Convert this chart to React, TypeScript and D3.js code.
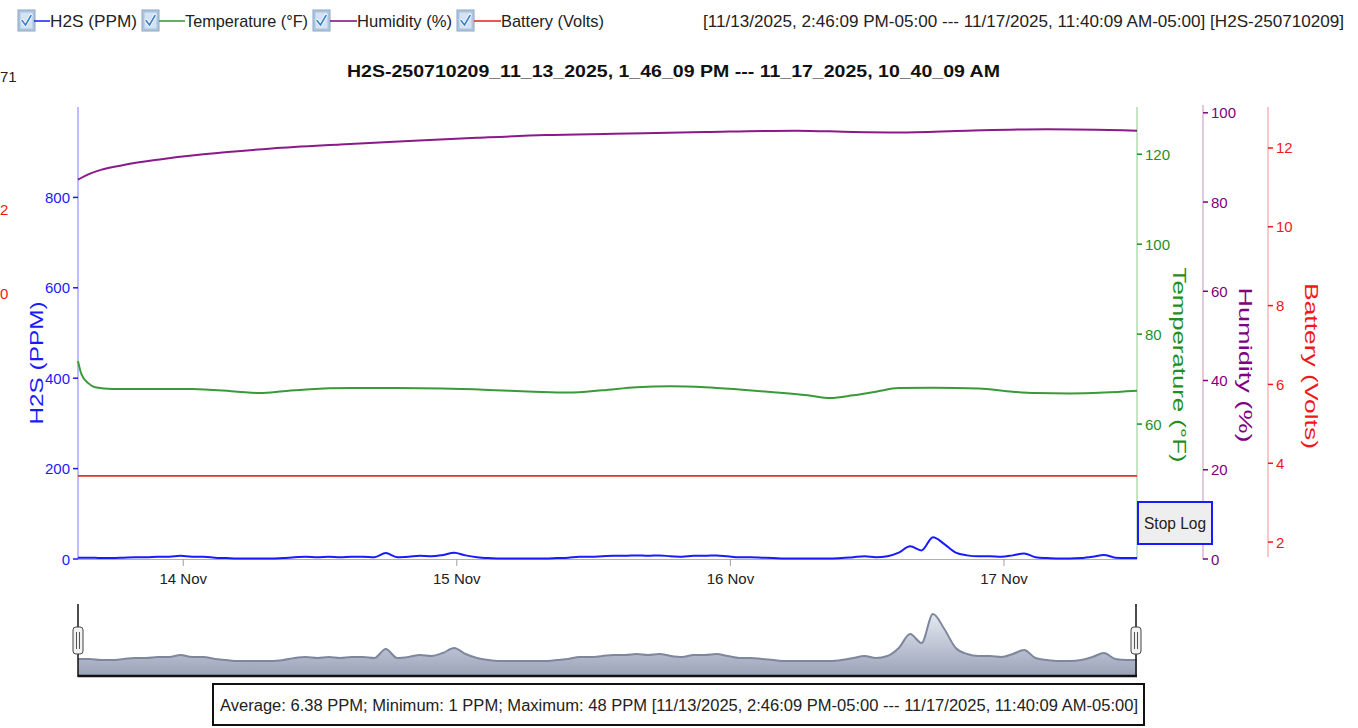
import React from "react";
import * as d3 from "d3";

// ---------- DATA ----------
const START = new Date(2025, 10, 13, 14, 46, 9);
const END = new Date(2025, 10, 17, 11, 40, 9);
const dayTicks = [new Date(2025, 10, 14), new Date(2025, 10, 15), new Date(2025, 10, 16), new Date(2025, 10, 17)];

// hourly H2S readings (PPM) from start; last reading clamps to END
const h2sValues = [
  3, 3, 2, 2, 3, 4, 4, 5, 5, 7,
  5, 5, 3, 2, 1, 1, 1, 1, 2, 4,
  5, 4, 5, 4, 5, 5, 4, 13, 4, 5,
  7, 6, 9, 14, 8, 4, 2, 1, 1, 1,
  1, 1, 2, 3, 5, 5, 6, 7, 7, 8,
  7, 8, 6, 5, 7, 7, 8, 6, 4, 4,
  3, 2, 1, 1, 1, 1, 1, 2, 4, 6,
  4, 6, 14, 28, 19, 48, 33, 14, 8, 6,
  6, 5, 8, 12, 4, 2, 1, 1, 2, 5,
  9, 3, 2, 2,
];

const tempHours = [0, 0.3, 0.9, 1.5, 3, 6, 10, 14, 16, 18, 20, 24, 28, 32, 36, 40, 43, 46, 49, 52, 55, 58, 61, 64, 66, 68, 70, 72, 75, 79, 82, 84, 87, 90, 92.9];
const tempValues = [74.0, 71.1, 69.1, 68.2, 67.8, 67.8, 67.8, 67.2, 66.9, 67.3, 67.7, 68.0, 68.0, 67.9, 67.6, 67.2, 67.0, 67.5, 68.2, 68.4, 68.2, 67.7, 67.1, 66.4, 65.8, 66.4, 67.2, 68.0, 68.1, 67.9, 67.2, 66.9, 66.8, 67.0, 67.4];

const humHours = [0, 1, 2, 4, 7, 11, 17, 23, 29, 35, 41, 47, 55, 63, 68, 72, 78, 85, 92.9];
const humValues = [85.0, 86.3, 87.2, 88.3, 89.5, 90.7, 92.0, 92.9, 93.7, 94.4, 95.0, 95.3, 95.7, 96.0, 95.7, 95.6, 96.0, 96.3, 96.0];

const batHours = [0, 24, 48, 72, 92.9];
const batValues = [3.68, 3.68, 3.68, 3.68, 3.68];

const h2sTicks = [0, 200, 400, 600, 800];
const tempTicks = [60, 80, 100, 120];
const humTicks = [0, 20, 40, 60, 80, 100];
const batTicks = [2, 4, 6, 8, 10, 12];

const legendItems = ["H2S (PPM)", "Temperature (°F)", "Humidity (%)", "Battery (Volts)"];
const titleText = "H2S-250710209_11_13_2025, 1_46_09 PM --- 11_17_2025, 10_40_09 AM";
const rangeText = "[11/13/2025, 2:46:09 PM-05:00 --- 11/17/2025, 11:40:09 AM-05:00] [H2S-250710209]";
const statsText = "Average: 6.38 PPM; Minimum: 1 PPM; Maximum: 48 PPM [11/13/2025, 2:46:09 PM-05:00 --- 11/17/2025, 11:40:09 AM-05:00]";
const edgeTexts = ["71", "2", "0"];

// ---------- helpers ----------
const HOUR = 3600 * 1000;
const atHour = (h: number) => new Date(Math.min(START.getTime() + h * HOUR, END.getTime()));

const FONT = "'Liberation Sans', Arial, sans-serif";
const BLUE = "#1a1aff";
const GREEN = "#1f8f1f";
const PURPLE = "#800080";
const RED = "#f01818";

function CheckBox({ x, y }: { x: number; y: number }) {
  const d = `M${x + 4},${y + 10.5} L${x + 7.5},${y + 15} L${x + 13},${y + 5.5}`;
  return (
    <g>
      <rect x={x} y={y} width={17} height={21} fill="#b3cbe4" stroke="#8aa6c4" strokeWidth={1} />
      <rect x={x + 2} y={y + 2} width={13} height={17} fill="#d3e3f3" stroke="#a2bad4" strokeWidth={0.8} />
      <path d={d} fill="none" stroke="#ffffff" strokeWidth={3.2} strokeLinecap="round" />
      <path d={d} fill="none" stroke="#3f7fc4" strokeWidth={1.6} strokeLinecap="round" />
    </g>
  );
}

export default function App() {
  const L = 78, R = 1137, T = 107, B = 559;
  const x = d3.scaleTime().domain([START, END]).range([L, R]);
  const yH2S = d3.scaleLinear().domain([0, 1000]).range([B, T]);
  const yTemp = d3.scaleLinear().domain([30, 130.5]).range([B, T]);
  const yHum = d3.scaleLinear().domain([0, 101.3]).range([B, T]);
  const yBat = d3.scaleLinear().domain([1.57, 13.04]).range([B, T]);
  const yNav = d3.scaleLinear().domain([0, 48]).range([662, 614]);

  const h2sPts = h2sValues.map((v, i) => ({ t: atHour(i), v }));
  const tempPts = tempHours.map((h, i) => ({ t: atHour(h), v: tempValues[i] }));
  const humPts = humHours.map((h, i) => ({ t: atHour(h), v: humValues[i] }));
  const batPts = batHours.map((h, i) => ({ t: atHour(h), v: batValues[i] }));

  const mk = (ys: d3.ScaleLinear<number, number>) =>
    d3.line<{ t: Date; v: number }>().x((d) => x(d.t)).y((d) => ys(d.v)).curve(d3.curveMonotoneX);

  const navArea = d3
    .area<{ t: Date; v: number }>()
    .x((d) => x(d.t))
    .y0(675)
    .y1((d) => yNav(d.v))
    .curve(d3.curveMonotoneX);
  const navLine = mk(yNav as any);

  const fmt = d3.timeFormat("%-d %b");

  const legendPos = [
    { cb: 18, l0: 34, l1: 50, tx: 50, tw: 87, c: BLUE },
    { cb: 142, l0: 159, l1: 185, tx: 185, tw: 123, c: "#2a9a2a" },
    { cb: 313, l0: 330, l1: 357, tx: 357, tw: 95, c: PURPLE },
    { cb: 457, l0: 474, l1: 501, tx: 501, tw: 103, c: RED },
  ];

  return (
    <svg
      width={1358}
      height={728}
      style={{ position: "absolute", left: 0, top: 0, background: "#fff" }}
      fontFamily={FONT}
    >
      <defs>
        <linearGradient id="navFill" x1="0" y1="0" x2="0" y2="1">
          <stop offset="0%" stopColor="#e6e9f1" />
          <stop offset="100%" stopColor="#9ba3b9" />
        </linearGradient>
      </defs>

      {/* Legend */}
      {legendItems.map((name, i) => {
        const p = legendPos[i];
        return (
          <g key={name}>
            <CheckBox x={p.cb} y={10} />
            <line x1={p.l0} x2={p.l1} y1={21} y2={21} stroke={p.c} strokeWidth={1.5} />
            <text x={p.tx} y={27} fontSize={17} fill="#222" textLength={p.tw} lengthAdjust="spacingAndGlyphs">
              {name}
            </text>
          </g>
        );
      })}
      <text x={703} y={27} fontSize={17} fill="#222" textLength={641} lengthAdjust="spacingAndGlyphs">
        {rangeText}
      </text>

      {/* remnants at page left */}
      <text x={0} y={82} fontSize={15} fill="#222">{edgeTexts[0]}</text>
      <text x={0} y={215} fontSize={15} fill={RED}>{edgeTexts[1]}</text>
      <text x={0} y={299} fontSize={15} fill={RED}>{edgeTexts[2]}</text>

      {/* Title */}
      <text x={673.5} y={77} fontSize={17} fontWeight="bold" fill="#111" textAnchor="middle" textLength={653} lengthAdjust="spacingAndGlyphs">
        {titleText}
      </text>

      {/* X axis */}
      <line x1={L} x2={R} y1={B + 0.5} y2={B + 0.5} stroke="#b0b0b0" strokeWidth={1} />
      {dayTicks.map((d) => (
        <g key={d.toISOString()}>
          <line x1={x(d)} x2={x(d)} y1={B} y2={B + 7} stroke="#a0a0a0" strokeWidth={1} />
          <text x={x(d)} y={584} fontSize={15} fill="#222" textAnchor="middle">{fmt(d)}</text>
        </g>
      ))}

      {/* Left H2S axis */}
      <line x1={L} x2={L} y1={T} y2={B} stroke="#7a7aff" strokeWidth={1} />
      {h2sTicks.map((v) => (
        <g key={v}>
          <line x1={L - 5} x2={L} y1={yH2S(v)} y2={yH2S(v)} stroke={BLUE} strokeWidth={1.5} />
          <text x={L - 8} y={yH2S(v) + 5.5} fontSize={15} fill={BLUE} textAnchor="end">{v}</text>
        </g>
      ))}
      <text transform="translate(37,363) rotate(-90)" fontSize={18} fill={BLUE} textAnchor="middle" dominantBaseline="central" textLength={123} lengthAdjust="spacingAndGlyphs">
        H2S (PPM)
      </text>

      {/* Temperature axis */}
      <line x1={R} x2={R} y1={T} y2={B} stroke="#8cc88c" strokeWidth={1} />
      {tempTicks.map((v) => (
        <g key={v}>
          <line x1={R} x2={R + 5} y1={yTemp(v)} y2={yTemp(v)} stroke={GREEN} strokeWidth={1.5} />
          <text x={R + 8} y={yTemp(v) + 5.5} fontSize={15} fill={GREEN}>{v}</text>
        </g>
      ))}
      <text transform="translate(1179,365) rotate(90)" fontSize={18} fill={GREEN} textAnchor="middle" dominantBaseline="central" textLength={195} lengthAdjust="spacingAndGlyphs">
        Temperature (°F)
      </text>

      {/* Humidity axis */}
      <line x1={1203} x2={1203} y1={T - 2} y2={B + 1} stroke="#c890c8" strokeWidth={1} />
      {humTicks.map((v) => (
        <g key={v}>
          <line x1={1203} x2={1208} y1={yHum(v)} y2={yHum(v)} stroke={PURPLE} strokeWidth={1.5} />
          <text x={1211} y={yHum(v) + 5.5} fontSize={15} fill={PURPLE}>{v}</text>
        </g>
      ))}
      <text transform="translate(1245,365) rotate(90)" fontSize={18} fill={PURPLE} textAnchor="middle" dominantBaseline="central" textLength={155} lengthAdjust="spacingAndGlyphs">
        Humidity (%)
      </text>

      {/* Battery axis */}
      <line x1={1268} x2={1268} y1={T} y2={B - 2} stroke="#f39090" strokeWidth={1} />
      {batTicks.map((v) => (
        <g key={v}>
          <line x1={1268} x2={1273} y1={yBat(v)} y2={yBat(v)} stroke={RED} strokeWidth={1.5} />
          <text x={1276} y={yBat(v) + 5.5} fontSize={15} fill={RED}>{v}</text>
        </g>
      ))}
      <text transform="translate(1311,366) rotate(90)" fontSize={18} fill={RED} textAnchor="middle" dominantBaseline="central" textLength={166} lengthAdjust="spacingAndGlyphs">
        Battery (Volts)
      </text>

      {/* Series */}
      <path d={mk(yHum)(humPts) || ""} fill="none" stroke="#8a1a8a" strokeWidth={2} />
      <path d={mk(yTemp)(tempPts) || ""} fill="none" stroke="#3a9a3a" strokeWidth={2} />
      <path d={mk(yBat)(batPts) || ""} fill="none" stroke="#e83030" strokeWidth={1.6} />
      <path d={mk(yH2S)(h2sPts) || ""} fill="none" stroke={BLUE} strokeWidth={2} />

      {/* Stop Log button */}
      <rect x={1138} y={502} width={74} height={42} fill="#eeeeee" stroke="#1a1aff" strokeWidth={2} />
      <text x={1175} y={529} fontSize={17} fill="#222" textAnchor="middle" textLength={62} lengthAdjust="spacingAndGlyphs">Stop Log</text>

      {/* Navigator */}
      <path d={navArea(h2sPts) || ""} fill="url(#navFill)" />
      <path d={navLine(h2sPts) || ""} fill="none" stroke="#7d879e" strokeWidth={2} />
      <line x1={L} x2={R} y1={676} y2={676} stroke="#111" strokeWidth={2.5} />
      <line x1={L} x2={L} y1={604} y2={677} stroke="#111" strokeWidth={1.5} />
      <line x1={R - 1} x2={R - 1} y1={604} y2={677} stroke="#111" strokeWidth={1.5} />
      {[L, R - 1].map((hx) => (
        <g key={hx}>
          <rect x={hx - 5} y={627} width={10} height={27} rx={3} fill="#f2f2f2" stroke="#444" strokeWidth={1} />
          <line x1={hx - 1.5} x2={hx - 1.5} y1={632} y2={649} stroke="#555" strokeWidth={1} />
          <line x1={hx + 1.5} x2={hx + 1.5} y1={632} y2={649} stroke="#555" strokeWidth={1} />
        </g>
      ))}

      {/* Stats box */}
      <rect x={213} y={684} width={931} height={41} fill="#fff" stroke="#111" strokeWidth={2} />
      <text x={220} y={711} fontSize={16} fill="#222" textLength={918} lengthAdjust="spacingAndGlyphs">
        {statsText}
      </text>
    </svg>
  );
}
